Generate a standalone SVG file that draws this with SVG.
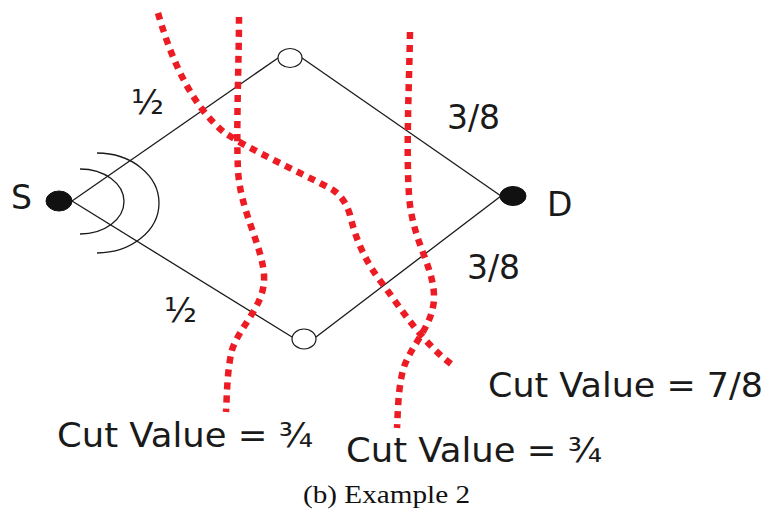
<svg xmlns="http://www.w3.org/2000/svg" width="772" height="515" viewBox="0 0 772 515">
<style>
.edge{stroke:#1a1a1a;stroke-width:1.3;fill:none}
.arc{stroke:#1a1a1a;stroke-width:1.3;fill:none}
.cut{stroke:#ed1c24;stroke-width:6.5;fill:none;stroke-dasharray:7 6}
.open{fill:#fff;stroke:#1a1a1a;stroke-width:1.2}
.filled{fill:#111;stroke:#111;stroke-width:1}
.lbl{font-family:"DejaVu Sans","Liberation Sans",sans-serif;font-size:33px;fill:#1a1a1a}
.frac{font-family:"DejaVu Sans","Liberation Sans",sans-serif;font-size:34px;fill:#1a1a1a}
.cap{font-family:"Liberation Serif","DejaVu Serif",serif;font-size:25px;fill:#111}
</style>
<rect width="772" height="515" fill="#fff"/>
<g id="connectors">
<line class="edge" x1="72" y1="201" x2="278" y2="58"/>
<line class="edge" x1="72" y1="201" x2="292" y2="337"/>
<line class="edge" x1="302" y1="58" x2="501" y2="196"/>
<line class="edge" x1="316" y1="337" x2="501" y2="196"/>
</g>
<g id="broadcast">
<path class="arc" d="M80,169 A44,32.5 0 0 1 80,234"/>
<path class="arc" d="M97,153 A62,50 0 0 1 97,253"/>
</g>
<g id="cuts">
<path class="cut" d="M158,13 C170,55 190,105 225,133 C250,150 300,172 333,190 Q345,198 350,215 C356,240 365,262 385,287 C405,315 425,345 455,367"/>
<path class="cut" d="M239,17 C239,60 236,130 238,170 C240,210 262,245 264,275 C266,305 240,325 232,350 C227,370 227,395 226,412"/>
<path class="cut" d="M410,32 C409,90 406,150 409,195 C412,240 433,265 434,295 C435,325 410,345 403,370 C398,390 398,410 397,428"/>
</g>
<g id="node-S">
<ellipse class="filled" cx="59" cy="201" rx="13" ry="10"/>
<text class="lbl" x="11" y="209">S</text>
</g>
<g id="node-top">
<ellipse class="open" cx="290" cy="58" rx="12" ry="9.5"/>
</g>
<g id="node-bottom">
<ellipse class="open" cx="304" cy="339" rx="12" ry="10"/>
</g>
<g id="node-D">
<ellipse class="filled" cx="513" cy="196" rx="13" ry="9.5"/>
<text class="lbl" x="547" y="216">D</text>
</g>
<g id="edge-labels">
<text class="frac" x="131" y="114">½</text>
<text class="frac" x="164" y="322">½</text>
<text class="lbl" x="447" y="129">3/8</text>
<text class="lbl" x="467" y="279">3/8</text>
</g>
<g id="cut-labels">
<text class="lbl" x="488" y="397" textLength="275" lengthAdjust="spacingAndGlyphs">Cut Value = 7/8</text>
<text class="lbl" x="57" y="447" textLength="256" lengthAdjust="spacingAndGlyphs">Cut Value = ¾</text>
<text class="lbl" x="346" y="462" textLength="256" lengthAdjust="spacingAndGlyphs">Cut Value = ¾</text>
</g>
<text class="cap" x="303" y="503" textLength="167" lengthAdjust="spacingAndGlyphs">(b) Example 2</text>
</svg>
